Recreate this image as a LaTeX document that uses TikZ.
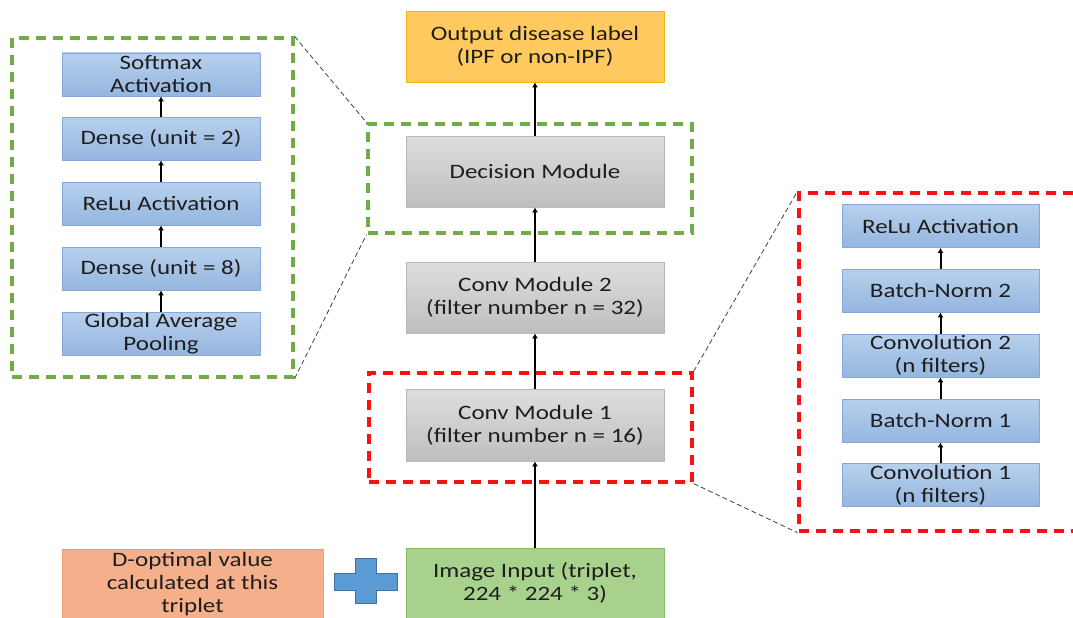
\documentclass[tikz,border=0pt]{standalone}
\usepackage{fontspec}
\setmainfont[FakeStretch=1.22]{Carlito}
\usetikzlibrary{arrows.meta}
\definecolor{txt}{HTML}{1E1E1E}
\definecolor{bluetop}{HTML}{B7D0EC}
\definecolor{bluebot}{HTML}{95B6E0}
\definecolor{bluedraw}{HTML}{85A8D6}
\definecolor{graytop}{HTML}{DEDEDE}
\definecolor{graybot}{HTML}{BEBEBE}
\definecolor{graydraw}{HTML}{B8B8B8}
\definecolor{gold}{HTML}{FEC95E}
\definecolor{golddraw}{HTML}{F5B90A}
\definecolor{salmon}{HTML}{F5AF8B}
\definecolor{salmondraw}{HTML}{EF9B6C}
\definecolor{lgreen}{HTML}{A9D18E}
\definecolor{lgreendraw}{HTML}{85BE63}
\definecolor{dgreen}{HTML}{70AD47}
\definecolor{dred}{HTML}{FF1010}
\definecolor{plusfill}{HTML}{5B9BD5}
\definecolor{plusdraw}{HTML}{41719C}
\begin{document}
\begin{tikzpicture}[x=1pt,y=-1pt,
  lbl/.style={font=\fontsize{20.5}{23}\selectfont, text=txt, align=center, inner sep=0pt},
  bluebox/.style={lbl, draw=bluedraw, line width=0.8pt, top color=bluetop, bottom color=bluebot, minimum width=198pt, minimum height=43pt},
  graybox/.style={lbl, draw=graydraw, line width=0.8pt, top color=graytop, bottom color=graybot, minimum width=258pt, minimum height=71pt},
  goldbox/.style={lbl, draw=golddraw, line width=0.8pt, fill=gold, minimum width=258pt, minimum height=71pt},
  salmonbox/.style={lbl, draw=salmondraw, line width=0.8pt, fill=salmon, minimum width=261pt, minimum height=70pt},
  greenbox/.style={lbl, draw=lgreendraw, line width=0.8pt, fill=lgreen, minimum width=258pt, minimum height=70pt},
  gframe/.style={draw=dgreen, line width=3.2pt, dash pattern=on 10pt off 7pt, inner sep=0pt},
  rframe/.style={draw=dred, line width=3.2pt, dash pattern=on 10pt off 7pt, inner sep=0pt},
  zoomline/.style={draw=black!75, line width=0.8pt, dash pattern=on 5pt off 3pt},
  arr/.style={draw=black, line width=2pt, -{Latex[length=5pt,width=6pt]}}
]
\clip (0,0) rectangle (1073,618);
\useasboundingbox (0,0) rectangle (1073,618);

% left expanded decision module
\node[gframe, minimum width=281pt, minimum height=339pt] (lg) at (152.5,207.5) {};
\node[bluebox] (sm) at (161,74.5) {Softmax\\Activation};
\node[bluebox] (d2) at (161,138.5) {Dense (unit = 2)};
\node[bluebox] (rl) at (161,203.5) {ReLu Activation};
\node[bluebox] (d8) at (161,268.5) {Dense (unit = 8)};
\node[bluebox] (gap) at (161,333.5) {Global Average\\Pooling};
\draw[arr] (gap.north) -- (d8.south);
\draw[arr] (d8.north) -- (rl.south);
\draw[arr] (rl.north) -- (d2.south);
\draw[arr] (d2.north) -- (sm.south);

% center column
\node[gframe, minimum width=324pt, minimum height=109pt] (dg) at (530,178.5) {};
\node[rframe, minimum width=323pt, minimum height=109pt] (rc) at (530.5,427.5) {};
\node[goldbox] (out) at (535,46.5) {Output disease label\\(IPF or non-IPF)};
\node[graybox] (dec) at (535,171.5) {Decision Module};
\node[graybox] (cm2) at (535,297.5) {Conv Module 2\\(filter number n = 32)};
\node[graybox, minimum height=72pt] (cm1) at (535,425) {Conv Module 1\\(filter number n = 16)};
\node[greenbox] (img) at (535,583) {Image Input (triplet,\\224 * 224 * 3)};
\node[salmonbox] (dopt) at (192.5,584) {D-optimal value\\calculated at this\\triplet};
\draw[arr] (img.north) -- (cm1.south);
\draw[arr] (cm1.north) -- (cm2.south);
\draw[arr] (cm2.north) -- (dec.south);
\draw[arr] (dec.north) -- (out.south);

% plus sign
\fill[plusfill, draw=plusdraw, line width=0.6pt]
  (355,558) -- (376,558) -- (376,573) -- (397,573) -- (397,590) -- (376,590)
  -- (376,603) -- (355,603) -- (355,590) -- (334,590) -- (334,573) -- (355,573) -- cycle;

% right expanded conv module
\node[rframe, minimum width=291pt, minimum height=338pt] (rr) at (944.5,362) {};
\node[bluebox, minimum width=197pt] (rrl) at (940.5,226) {ReLu Activation};
\node[bluebox, minimum width=197pt] (bn2) at (940.5,290.5) {Batch-Norm 2};
\node[bluebox, minimum width=197pt] (cv2) at (940.5,355.5) {Convolution 2\\(n filters)};
\node[bluebox, minimum width=197pt] (bn1) at (940.5,420.5) {Batch-Norm 1};
\node[bluebox, minimum width=197pt] (cv1) at (940.5,485) {Convolution 1\\(n filters)};
\draw[arr] (cv1.north) -- (bn1.south);
\draw[arr] (bn1.north) -- (cv2.south);
\draw[arr] (cv2.north) -- (bn2.south);
\draw[arr] (bn2.north) -- (rrl.south);

% zoom lines
\draw[zoomline] (lg.north east) -- (dg.north west);
\draw[zoomline] (lg.south east) -- (dg.south west);
\draw[zoomline] (rc.north east) -- (rr.north west);
\draw[zoomline] (rc.south east) -- (rr.south west);
\end{tikzpicture}
\end{document}
